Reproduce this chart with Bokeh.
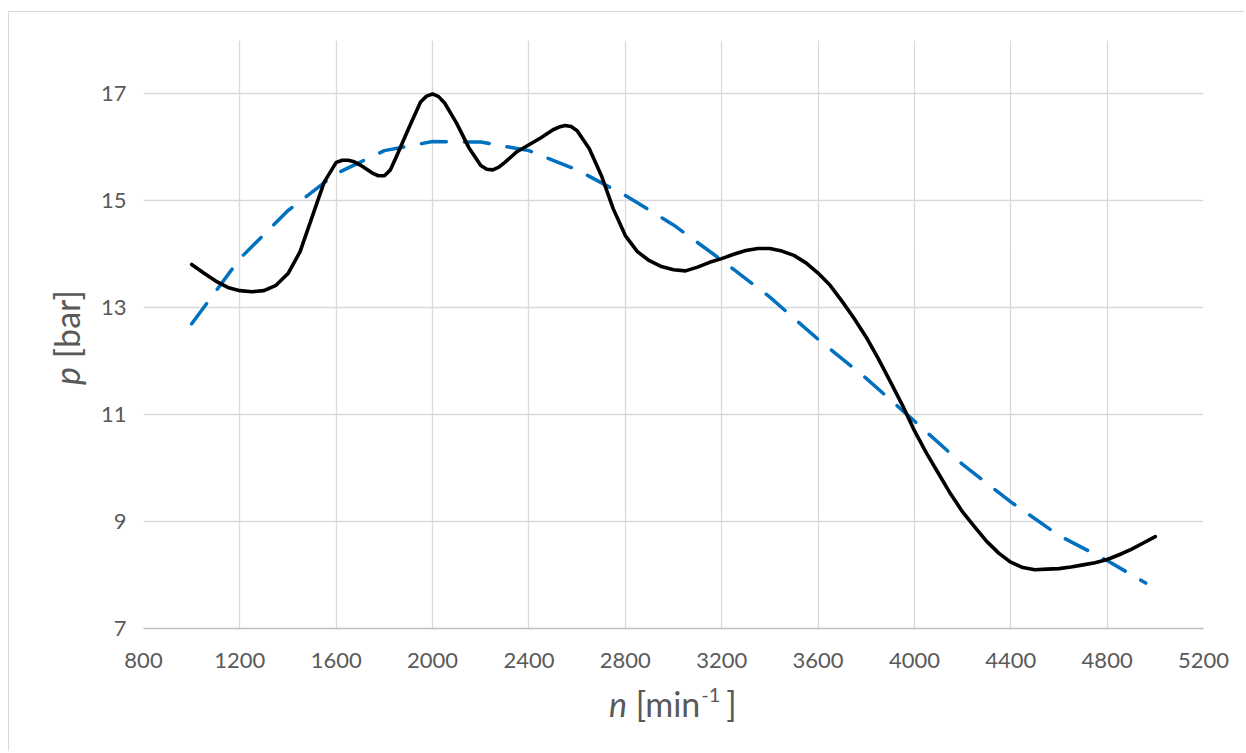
from bokeh.plotting import figure
from bokeh.models import FixedTicker, Range1d, Div
from bokeh.embed import file_html
from bokeh.resources import INLINE

# measured pressure curve (n in min^-1, p in bar)
n_meas = [1000, 1050, 1100, 1150, 1200, 1250, 1300, 1350, 1400, 1450, 1500, 1550,
          1600, 1625, 1650, 1675, 1700, 1750, 1775, 1800, 1825, 1850, 1900, 1950,
          1975, 2000, 2025, 2050, 2100, 2150, 2200, 2225, 2250, 2275, 2300, 2350,
          2400, 2450, 2500, 2525, 2550, 2575, 2600, 2650, 2700, 2750,
          2800, 2850, 2900, 2950, 3000, 3050, 3100, 3150, 3200, 3250, 3300, 3350,
          3400, 3450, 3500, 3550, 3600, 3650, 3700, 3750, 3800, 3850, 3900, 3950,
          4000, 4050, 4100, 4150, 4200, 4250, 4300, 4350, 4400, 4450, 4500, 4550,
          4600, 4650, 4700, 4750, 4800, 4850, 4900, 4950, 5000]
p_meas = [13.81, 13.65, 13.50, 13.38, 13.32, 13.30, 13.32, 13.42, 13.64, 14.05, 14.70, 15.35,
          15.72, 15.76, 15.76, 15.73, 15.67, 15.52, 15.47, 15.47, 15.58, 15.83, 16.35, 16.85,
          16.96, 17.00, 16.95, 16.83, 16.45, 16.00, 15.66, 15.59, 15.58, 15.63, 15.72, 15.92,
          16.05, 16.18, 16.33, 16.38, 16.41, 16.39, 16.31, 15.98, 15.48, 14.85,
          14.35, 14.05, 13.88, 13.77, 13.71, 13.69, 13.76, 13.85, 13.92, 14.00, 14.07, 14.11,
          14.11, 14.06, 13.98, 13.84, 13.65, 13.42, 13.12, 12.80, 12.45, 12.05, 11.62, 11.18,
          10.70, 10.28, 9.90, 9.52, 9.18, 8.90, 8.63, 8.41, 8.24, 8.14, 8.10, 8.11,
          8.12, 8.15, 8.19, 8.23, 8.29, 8.38, 8.48, 8.60, 8.72]

# trend line (dashed)
n_trend = [1000, 1200, 1400, 1600, 1800, 2000, 2200, 2400, 2600, 2800, 3000,
           3200, 3400, 3600, 3800, 4000, 4200, 4400, 4600, 4800, 4960]
p_trend = [12.70, 13.92, 14.82, 15.51, 15.94, 16.11, 16.10, 15.94, 15.58, 15.10, 14.55,
           13.89, 13.20, 12.41, 11.68, 10.88, 10.07, 9.37, 8.74, 8.27, 7.85]

x_ticks = [800, 1200, 1600, 2000, 2400, 2800, 3200, 3600, 4000, 4400, 4800, 5200]
y_ticks = [7, 9, 11, 13, 15, 17]

FONT = "Lato"
TXT = "#595959"
GRID = "#d9d9d9"

p = figure(width=1236, height=740, output_backend="svg", toolbar_location=None,
           x_range=Range1d(800, 5200), y_range=Range1d(7, 18),
           min_border_left=134, min_border_right=42, min_border_top=28,
           min_border_bottom=124)
p.styles = {"border-left": "1px solid #d9d9d9", "border-top": "1px solid #d9d9d9",
            "margin-left": "8px", "margin-top": "11px"}
p.outline_line_color = None
p.background_fill_color = "white"
p.border_fill_color = "white"

p.xaxis.ticker = FixedTicker(ticks=x_ticks)
p.yaxis.ticker = FixedTicker(ticks=y_ticks)
p.xgrid.ticker = FixedTicker(ticks=x_ticks)
p.ygrid.ticker = FixedTicker(ticks=y_ticks)
for g in (p.xgrid, p.ygrid):
    g.grid_line_color = GRID
    g.grid_line_width = 1.3

for ax in (p.xaxis, p.yaxis):
    ax.major_tick_in = 0
    ax.major_tick_out = 0
    ax.minor_tick_in = 0
    ax.minor_tick_out = 0
    ax.major_label_text_font = FONT
    ax.major_label_text_font_size = "22px"
    ax.major_label_text_color = TXT
p.yaxis.axis_line_color = None
p.yaxis.major_label_standoff = 17
p.xaxis.axis_line_color = "#bfbfbf"
p.xaxis.axis_line_width = 1.3
p.xaxis.major_label_standoff = 24

p.line(n_trend, p_trend, line_color="#0070C0", line_width=3.5, line_dash="25 18",
       line_cap="round")
p.line(n_meas, p_meas, line_color="black", line_width=3.6, line_join="round",
       line_cap="round")

# axis titles (mixed italic / superscript text as HTML)
css = ("font-family:Lato;font-size:34px;line-height:34px;color:#595959;"
       "white-space:nowrap;margin:0;padding:0;")
sup = "font-size:20px;position:relative;top:-15px;margin-right:6px;margin-left:1px"
x_title = Div(text=f'<div style="{css}"><i>n</i>&nbsp;[min<span style="{sup}">-1</span>]</div>',
              width=230, height=44,
              styles={"position": "absolute", "left": "609px", "top": "687px",
                      "margin": "0", "padding": "0"})
y_title = Div(text=f'<div style="{css}"><i>p</i>&nbsp;[bar]</div>',
              width=170, height=44,
              styles={"position": "absolute", "left": "50px", "top": "385px",
                      "margin": "0", "padding": "0",
                      "transform": "rotate(-90deg)", "transform-origin": "left top"})

open("out.html", "w").write(file_html([p, x_title, y_title], INLINE))
